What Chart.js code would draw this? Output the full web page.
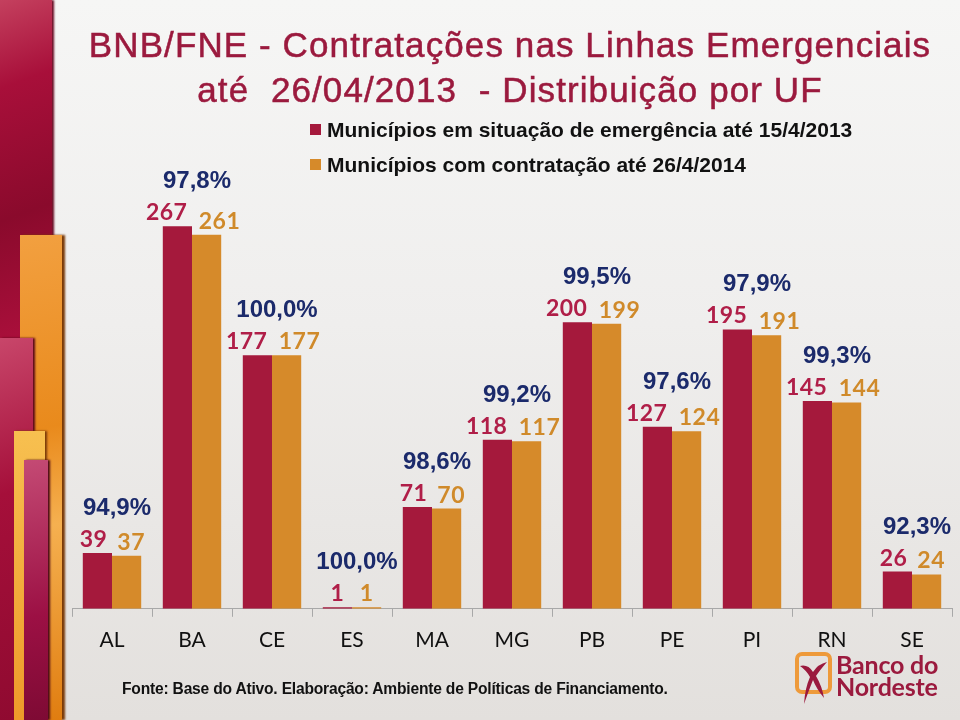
<!DOCTYPE html>
<html>
<head>
<meta charset="utf-8">
<script src="https://cdn.jsdelivr.net/npm/chart.js@4"></script>
<style>
  html, body { margin: 0; padding: 0; }
  body {
    width: 960px; height: 720px; overflow: hidden; position: relative;
    background: linear-gradient(180deg, #f6f6f5 0%, #efeeed 45%, #e3e0dd 100%);
    font-family: "Liberation Sans", Arial, sans-serif;
  }
  #wrap { position: absolute; left: 0; top: 0; width: 960px; height: 720px; }
  .deco { position: absolute; }
  #titulo {
    position: absolute; left: 60px; width: 900px; top: 22px; text-align: center;
    color: #9b1a3e; font-size: 35px; line-height: 45px; letter-spacing: 1.1px;
    -webkit-text-stroke: 0.5px #9b1a3e;
  }
  #legenda { position: absolute; left: 310px; top: 118px; font-weight: bold; font-size: 21px; color: #111; }
  #legenda div { height: 35px; line-height: 24px; }
  #legenda span.q { display: inline-block; width: 11px; height: 11px; margin-right: 6px; vertical-align: 2px; }
  #fonte { position: absolute; left: 122px; top: 680px; font-weight: bold; font-size: 15.6px; color: #111; letter-spacing: -0.2px; }
  #logo { position: absolute; left: 794px; top: 650px; width: 166px; height: 60px; }
  #logo .txt { position: absolute; left: 42px; top: 3px; color: #9b1a3e; font-family: Lato, sans-serif; font-weight: bold; font-size: 25px; line-height: 22px; letter-spacing: -0.2px; }
</style>
</head>
<body>
<div class="deco" style="left:0;top:0;width:52px;height:720px;background:linear-gradient(160deg,#c4405e 0%,#a80f3a 12%,#8a0a2c 30%,#b0103e 50%,#8d0b2e 75%,#a80f3a 100%);box-shadow:2px 0 2px #6a0a22;"></div>
<div class="deco" style="left:20px;top:235px;width:42px;height:485px;background:linear-gradient(170deg,#f2a040 0%,#e98a1c 40%,#f5b050 60%,#e07d10 100%);box-shadow:3px 0 2px #7a3a08;"></div>
<div class="deco" style="left:0;top:338px;width:33px;height:382px;background:linear-gradient(160deg,#c8466a 0%,#a50f3a 40%,#8f0a30 100%);box-shadow:2px 0 2px #5a0818;"></div>
<div class="deco" style="left:14px;top:431px;width:31px;height:289px;background:linear-gradient(180deg,#f7c050 0%,#ee9a2a 100%);box-shadow:2px 0 2px #7a3a08;"></div>
<div class="deco" style="left:24px;top:460px;width:24px;height:260px;background:linear-gradient(170deg,#c44a74 0%,#9c1044 60%,#7e0a34 100%);box-shadow:2px 0 2px #4a0818;"></div>

<div id="wrap"><canvas id="grafico" width="960" height="720"></canvas></div>

<div id="titulo">BNB/FNE - Contratações nas Linhas Emergenciais<br>até&nbsp; 26/04/2013&nbsp; - Distribuição por UF</div>
<div id="legenda">
  <div><span class="q" style="background:#a5193c"></span>Municípios em situação de emergência até 15/4/2013</div>
  <div><span class="q" style="background:#d68a2a"></span>Municípios com contratação até 26/4/2014</div>
</div>
<div id="fonte">Fonte: Base do Ativo. Elaboração: Ambiente de Políticas de Financiamento.</div>
<div id="logo">
  <svg width="40" height="56" viewBox="0 0 40 56" style="position:absolute;left:0;top:0">
    <rect x="3" y="4" width="33" height="38" rx="5" fill="none" stroke="#ee9a3a" stroke-width="4"/>
    <path d="M6 16 Q14 14 19 22 Q24 14 33 12 Q26 20 22 26 Q28 36 30 48 Q22 38 19 30 Q15 40 10 54 Q11 38 16 27 Q12 20 6 16 Z" fill="#9b1a3e"/>
  </svg>
  <div class="txt">Banco do<br>Nordeste</div>
</div>

<script>
const ufs = ['AL', 'BA', 'CE', 'ES', 'MA', 'MG', 'PB', 'PE', 'PI', 'RN', 'SE'];
const emergencia = [39, 267, 177, 1, 71, 118, 200, 127, 195, 145, 26];
const contratacao = [37, 261, 177, 1, 70, 117, 199, 124, 191, 144, 24];
const percentuais = ['94,9%', '97,8%', '100,0%', '100,0%', '98,6%', '99,2%', '99,5%', '97,6%', '97,9%', '99,3%', '92,3%'];

const corVermelho = '#a5193c';
const corLaranja = '#d68a2a';

// rotulos de valor e percentual acima das barras
const rotulos = {
  id: 'rotulos',
  afterDatasetsDraw(chart) {
    const ctx = chart.ctx;
    const m0 = chart.getDatasetMeta(0);
    const m1 = chart.getDatasetMeta(1);
    ctx.save();
    ctx.textAlign = 'center';
    ctx.textBaseline = 'alphabetic';
    m0.data.forEach((bar, i) => {
      const b1 = m1.data[i];
      ctx.font = 'bold 23px Lato, sans-serif';
      ctx.letterSpacing = '0.5px';
      // numeros longos se afastam para os lados
      const w0 = ctx.measureText(String(emergencia[i])).width;
      const w1 = ctx.measureText(String(contratacao[i])).width;
      const d0 = Math.max(0, w0 - 20) * 0.5;
      const d1 = Math.max(0, w1 - 20) * 0.6;
      ctx.fillStyle = '#b01e48';
      ctx.fillText(emergencia[i], bar.x - d0, bar.y - 6);
      ctx.fillStyle = '#d08a2a';
      ctx.fillText(contratacao[i], b1.x + d1, b1.y - 6);
      ctx.letterSpacing = '0px';
      ctx.font = 'bold 24px "Liberation Sans", Arial, sans-serif';
      ctx.fillStyle = '#1b2a6b';
      ctx.fillText(percentuais[i], (bar.x + b1.x) / 2 + 5, Math.min(bar.y, b1.y) - 38);
    });
    ctx.restore();
  }
};

new Chart(document.getElementById('grafico'), {
  type: 'bar',
  data: {
    labels: ufs,
    datasets: [
      { label: 'Municípios em situação de emergência até 15/4/2013', data: emergencia, backgroundColor: corVermelho },
      { label: 'Municípios com contratação até 26/4/2014', data: contratacao, backgroundColor: corLaranja }
    ]
  },
  options: {
    responsive: false,
    animation: false,
    layout: { padding: { left: 72, right: 8, top: 179, bottom: 56 } },
    datasets: { bar: { categoryPercentage: 0.73, barPercentage: 1.0 } },
    plugins: { legend: { display: false }, tooltip: { enabled: false } },
    scales: {
      x: {
        grid: { offset: true, drawOnChartArea: false, drawTicks: true, tickLength: 8, color: '#a8a8a8' },
        border: { display: true, color: '#a8a8a8' },
        ticks: { color: '#111', padding: 11, font: { family: 'Lato', size: 21 } }
      },
      y: { display: false, min: 0, max: 300 }
    }
  },
  plugins: [rotulos]
});
</script>
</body>
</html>
